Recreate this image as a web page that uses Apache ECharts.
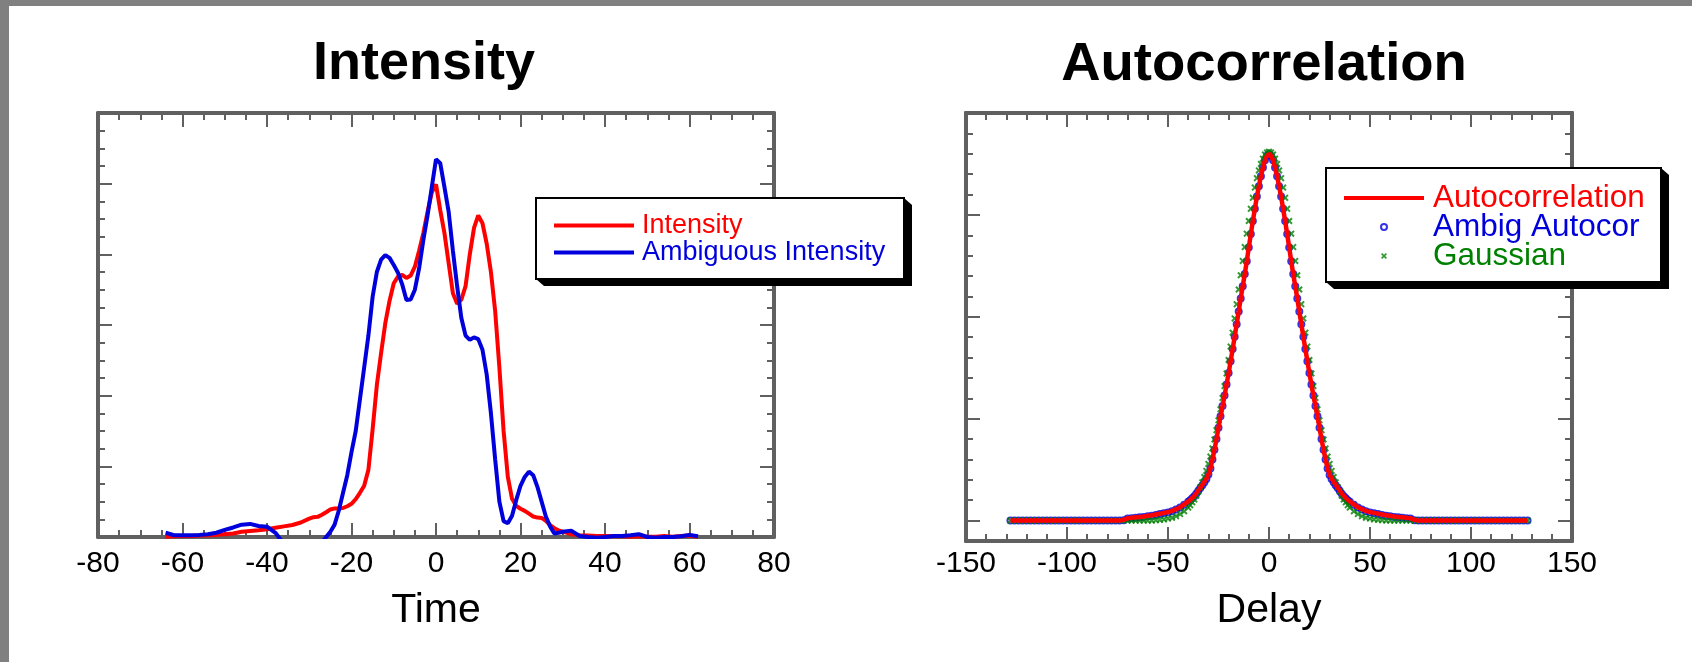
<!DOCTYPE html>
<html>
<head>
<meta charset="utf-8">
<title>Intensity and Autocorrelation</title>
<script src="https://cdn.jsdelivr.net/npm/echarts@6.0.0/dist/echarts.min.js"></script>
<style>
  html, body { margin: 0; padding: 0; background: #fff; }
  .frame-left { position: absolute; left: 0; top: 0; width: 9px; height: 662px; background: #808080; }
  .frame-top { position: absolute; left: 0; top: 0; width: 1692px; height: 6px; background: #808080; }
  #chart { position: absolute; left: 0; top: 0; width: 1692px; height: 662px; }
</style>
</head>
<body>
<div class="frame-left"></div>
<div class="frame-top"></div>
<div id="chart"></div>
<script>
const FONT = "'Liberation Sans', Arial, sans-serif"
const RED = '#ff0000'
const BLUE = '#0000dd'
const GREEN = '#008000'
const FRAME = '#606060'

// left panel: time axis
const times = [
  -64, -62, -60, -58, -56, -54, -52, -50, -48, -46,
  -44, -42, -40, -38, -36, -34, -32,
  -30, -29, -28, -27, -26, -25, -24, -23, -22, -21,
  -20, -19, -18, -17, -16, -15, -14, -13, -12, -11,
  -10, -9, -8, -7, -6, -5, -4, -3, -2, -1,
  0, 1, 2, 3, 4, 5, 6, 7, 8, 9,
  10, 11, 12, 13, 14, 15, 16, 17, 18, 19,
  20, 21, 22, 23, 24, 25, 26, 27, 28, 29,
  30,
  32, 34, 36, 38, 40, 42, 44, 46, 48, 50,
  52, 54, 56, 58, 60, 62
]
const intensity = [
  0.001, 0.002, 0.003, 0.003, 0.004, 0.005, 0.006, 0.008, 0.010, 0.015,
  0.017, 0.019, 0.022, 0.026, 0.030, 0.034, 0.041,
  0.052, 0.056, 0.057, 0.063, 0.070, 0.078, 0.081, 0.081, 0.082, 0.087,
  0.094, 0.107, 0.125, 0.145, 0.190, 0.305, 0.430, 0.520, 0.605, 0.668,
  0.718, 0.737, 0.742, 0.733, 0.740, 0.765, 0.810, 0.860, 0.920, 0.975,
  0.998, 0.925, 0.860, 0.775, 0.690, 0.660, 0.672, 0.710, 0.800, 0.875,
  0.910, 0.888, 0.830, 0.750, 0.640, 0.480, 0.300, 0.170, 0.108, 0.088,
  0.080, 0.074, 0.066, 0.058, 0.055, 0.054, 0.046, 0.034, 0.025, 0.019,
  0.015,
  0.008, 0.005, 0.004, 0.003, 0.003, 0.002, 0.002, 0.001, 0.002, 0.001,
  0.001, 0.003, 0.001, 0.003, 0.004, 0.001
]
const ambigIntensity = [
  0.012, 0.005, 0.005, 0.005, 0.006, 0.008, 0.012, 0.020, 0.027, 0.035,
  0.037, 0.031, 0.029, 0.012, -0.020, -0.050, -0.060,
  -0.055, -0.045, -0.030, -0.015, 0.000, 0.015, 0.035, 0.075, 0.125, 0.175,
  0.240, 0.300, 0.390, 0.480, 0.570, 0.680, 0.750, 0.785, 0.798, 0.790,
  0.770, 0.748, 0.715, 0.671, 0.672, 0.700, 0.760, 0.840, 0.910, 0.990,
  1.069, 1.058, 0.990, 0.920, 0.810, 0.710, 0.620, 0.570, 0.558, 0.565,
  0.560, 0.530, 0.460, 0.350, 0.220, 0.100, 0.045, 0.039, 0.060, 0.105,
  0.145, 0.170, 0.185, 0.175, 0.142, 0.100, 0.058, 0.030, 0.010, 0.012,
  0.015,
  0.018, 0.003, 0.000, -0.002, 0.000, 0.003, 0.003, 0.005, 0.008, 0.000,
  -0.002, 0.000, 0.000, 0.002, 0.006, 0.002
]

// right panel: delay axis
const delays = [
  -128, -126, -124, -122, -120, -118, -116, -114, -112, -110,
  -108, -106, -104, -102, -100, -98, -96, -94, -92, -90,
  -88, -86, -84, -82, -80, -78, -76, -74, -72, -70,
  -68, -66, -64, -62, -60, -58, -56, -54, -52, -50,
  -48, -46, -44, -42,
  -40, -39, -38, -37, -36, -35, -34, -33, -32, -31,
  -30, -29, -28, -27, -26, -25, -24, -23, -22, -21,
  -20, -19, -18, -17, -16, -15, -14, -13, -12, -11,
  -10, -9, -8, -7, -6, -5, -4, -3, -2, -1,
  0, 1, 2, 3, 4, 5, 6, 7, 8, 9,
  10, 11, 12, 13, 14, 15, 16, 17, 18, 19,
  20, 21, 22, 23, 24, 25, 26, 27, 28, 29,
  30, 31, 32, 33, 34, 35, 36, 37, 38, 39,
  40,
  42, 44, 46, 48, 50, 52, 54, 56, 58, 60,
  62, 64, 66, 68, 70, 72, 74, 76, 78, 80,
  82, 84, 86, 88, 90, 92, 94, 96, 98, 100,
  102, 104, 106, 108, 110, 112, 114, 116, 118, 120,
  122, 124, 126, 128
]
const autocorr = [
  0, 0, 0, 0, 0, 0, 0, 0, 0, 0,
  0, 0, 0, 0, 0, 0, 0, 0, 0, 0,
  0, 0, 0, 0, 0, 0, 0, 0, 0.002, 0.006,
  0.007, 0.008, 0.009, 0.010, 0.012, 0.013, 0.015, 0.017, 0.019, 0.021,
  0.024, 0.028, 0.033, 0.040,
  0.047, 0.051, 0.056, 0.061, 0.067, 0.074, 0.081, 0.088, 0.095, 0.103,
  0.113, 0.128, 0.150, 0.174, 0.200, 0.228, 0.256, 0.281, 0.307, 0.334,
  0.362, 0.391, 0.421, 0.451, 0.482, 0.513, 0.545, 0.575, 0.605, 0.636,
  0.670, 0.703, 0.735, 0.765, 0.795, 0.820, 0.845, 0.866, 0.884, 0.895,
  0.900, 0.895, 0.884, 0.866, 0.845, 0.820, 0.795, 0.765, 0.735, 0.703,
  0.670, 0.636, 0.605, 0.575, 0.545, 0.513, 0.482, 0.451, 0.421, 0.391,
  0.362, 0.334, 0.307, 0.281, 0.256, 0.228, 0.200, 0.174, 0.150, 0.128,
  0.113, 0.103, 0.095, 0.088, 0.081, 0.074, 0.067, 0.061, 0.056, 0.051,
  0.047,
  0.040, 0.033, 0.028, 0.024, 0.021, 0.019, 0.017, 0.015, 0.013, 0.012,
  0.010, 0.009, 0.008, 0.007, 0.006, 0.002, 0, 0, 0, 0,
  0, 0, 0, 0, 0, 0, 0, 0, 0, 0,
  0, 0, 0, 0, 0, 0, 0, 0, 0, 0,
  0, 0, 0, 0
]
const ambigAutocor = [
  0, 0, 0, 0, 0, 0, 0, 0, 0, 0,
  0, 0, 0, 0, 0, 0, 0, 0, 0, 0,
  0, 0, 0, 0, 0, 0, 0, 0, 0.001, 0.005,
  0.006, 0.007, 0.008, 0.009, 0.011, 0.012, 0.014, 0.016, 0.018, 0.020,
  0.023, 0.027, 0.032, 0.039,
  0.046, 0.050, 0.055, 0.060, 0.066, 0.073, 0.080, 0.087, 0.094, 0.102,
  0.113, 0.128, 0.150, 0.174, 0.200, 0.228, 0.256, 0.281, 0.307, 0.334,
  0.362, 0.391, 0.421, 0.451, 0.482, 0.513, 0.545, 0.575, 0.605, 0.636,
  0.670, 0.703, 0.735, 0.765, 0.795, 0.820, 0.845, 0.866, 0.884, 0.895,
  0.900, 0.895, 0.884, 0.866, 0.845, 0.820, 0.795, 0.765, 0.735, 0.703,
  0.670, 0.636, 0.605, 0.575, 0.545, 0.513, 0.482, 0.451, 0.421, 0.391,
  0.362, 0.334, 0.307, 0.281, 0.256, 0.228, 0.200, 0.174, 0.150, 0.128,
  0.112, 0.102, 0.094, 0.087, 0.080, 0.073, 0.066, 0.060, 0.055, 0.050,
  0.046,
  0.039, 0.032, 0.027, 0.023, 0.020, 0.018, 0.016, 0.014, 0.012, 0.011,
  0.009, 0.008, 0.007, 0.006, 0.005, 0.001, 0, 0, 0, 0,
  0, 0, 0, 0, 0, 0, 0, 0, 0, 0,
  0, 0, 0, 0, 0, 0, 0, 0, 0, 0,
  0, 0, 0, 0
]
const gaussian = [
  0, 0, 0, 0, 0, 0, 0, 0, 0, 0,
  0, 0, 0, 0, 0, 0, 0, 0, 0, 0,
  0, 0, 0, 0, 0, 0, 0, 0, 0, 0,
  0, 0, 0, 0, 0, 0, 0.001, 0.002, 0.003, 0.005,
  0.007, 0.011, 0.016, 0.023,
  0.032, 0.038, 0.045, 0.052, 0.061, 0.071, 0.082, 0.094, 0.107, 0.122,
  0.139, 0.157, 0.177, 0.199, 0.222, 0.246, 0.273, 0.301, 0.330, 0.361,
  0.394, 0.427, 0.461, 0.496, 0.531, 0.567, 0.602, 0.637, 0.671, 0.704,
  0.735, 0.765, 0.792, 0.817, 0.840, 0.859, 0.875, 0.888, 0.898, 0.903,
  0.905, 0.903, 0.898, 0.888, 0.875, 0.859, 0.840, 0.817, 0.792, 0.765,
  0.735, 0.704, 0.671, 0.637, 0.602, 0.567, 0.531, 0.496, 0.461, 0.427,
  0.394, 0.361, 0.330, 0.301, 0.273, 0.246, 0.222, 0.199, 0.177, 0.157,
  0.139, 0.122, 0.107, 0.094, 0.082, 0.071, 0.061, 0.052, 0.045, 0.038,
  0.032,
  0.023, 0.016, 0.011, 0.007, 0.005, 0.003, 0.002, 0.001, 0, 0,
  0, 0, 0, 0, 0, 0, 0, 0, 0, 0,
  0, 0, 0, 0, 0, 0, 0, 0, 0, 0,
  0, 0, 0, 0, 0, 0, 0, 0, 0, 0,
  0, 0, 0, 0
]

// bold "x" marker
const CROSS = 'path://M0,2L2,0L5,3L8,0L10,2L7,5L10,8L8,10L5,7L2,10L0,8L3,5Z'
const NO_DOT = { color: 'rgba(0,0,0,0)', borderWidth: 0 }

const pairs = (xs, ys) => xs.map((x, i) => [x, ys[i]])

const tickStyle = { color: FRAME, width: 2 }
const frameLine = { show: true, onZero: false, lineStyle: { color: FRAME, width: 4 } }

const xFrame = (grid, pos, min, max, interval, split, extra) => Object.assign({
  type: 'value',
  gridIndex: grid,
  position: pos,
  min: min,
  max: max,
  interval: interval,
  axisLine: frameLine,
  axisTick: { show: true, inside: true, length: 14, lineStyle: tickStyle },
  minorTick: { show: true, splitNumber: split, length: 7, lineStyle: tickStyle },
  splitLine: { show: false },
  axisLabel: { show: false }
}, extra)

const yFrame = (grid, pos, opts) => Object.assign({
  type: 'value',
  gridIndex: grid,
  position: pos,
  axisLine: frameLine,
  splitLine: { show: false },
  axisLabel: { show: false }
}, opts)

const tickLabel = margin => ({
  show: true, fontSize: 30, color: '#000', fontFamily: FONT, margin: margin,
  showMinLabel: true, showMaxLabel: true
})
const axisName = { fontSize: 41, color: '#000', fontFamily: FONT }

// legend frame with the raised black edge
const legendFrame = (x, y, w, h) => [
  {
    type: 'polygon', z: 3, silent: true,
    shape: { points: [[x + w, y], [x + w + 8, y + 7], [x + w + 8, y + h + 7], [x + 8, y + h + 7], [x, y + h]] },
    style: { fill: '#000' }
  },
  {
    type: 'rect', z: 3, silent: true,
    shape: { x: x, y: y, width: w, height: h },
    style: { fill: '#fff', stroke: '#000', lineWidth: 2 }
  }
]

const chartDom = document.getElementById('chart')
const chart = echarts.init(chartDom)

const option = {
  animation: false,
  title: [
    {
      text: 'Intensity', left: 424, top: 37, padding: 0,
      textAlign: 'center', textVerticalAlign: 'top',
      textStyle: { fontSize: 54, fontWeight: 'bold', color: '#000', fontFamily: FONT }
    },
    {
      text: 'Autocorrelation', left: 1264, top: 37, padding: 0,
      textAlign: 'center', textVerticalAlign: 'top',
      textStyle: { fontSize: 54.5, fontWeight: 'bold', color: '#000', fontFamily: FONT }
    }
  ],
  graphic: [].concat(legendFrame(536, 198, 368, 81), legendFrame(1326, 168, 335, 114)),
  legend: [
    {
      orient: 'vertical',
      left: 552, top: 212,
      padding: 0,
      itemWidth: 80, itemHeight: 14, itemGap: 0,
      selectedMode: false,
      lineStyle: { width: 4 },
      textStyle: { fontSize: 27, lineHeight: 26, fontFamily: FONT, padding: [0, 0, 0, 3] },
      data: [
        { name: 'Intensity', itemStyle: NO_DOT, textStyle: { color: RED } },
        { name: 'Ambiguous Intensity', itemStyle: NO_DOT, textStyle: { color: BLUE } }
      ]
    },
    {
      orient: 'vertical',
      left: 1342, top: 182,
      padding: 0,
      itemWidth: 80, itemHeight: 6, itemGap: -3,
      selectedMode: false,
      lineStyle: { width: 4 },
      textStyle: { fontSize: 31.5, lineHeight: 29, fontFamily: FONT, padding: [0, 0, 0, 4] },
      data: [
        { name: 'Autocorrelation', itemStyle: NO_DOT, textStyle: { color: RED } },
        {
          name: 'Ambig Autocor', icon: 'circle',
          itemStyle: { color: 'rgba(0,0,0,0)', borderColor: BLUE, borderWidth: 2 },
          textStyle: { color: BLUE }
        },
        {
          name: 'Gaussian', icon: CROSS,
          itemStyle: { color: GREEN, borderWidth: 0 },
          textStyle: { color: GREEN }
        }
      ]
    }
  ],
  grid: [
    { left: 98, top: 113, width: 676, height: 424 },
    { left: 966, top: 113, width: 606, height: 428 }
  ],
  xAxis: [
    xFrame(0, 'bottom', -80, 80, 20, 4, {
      axisLabel: tickLabel(12),
      name: 'Time', nameLocation: 'middle', nameGap: 53, nameTextStyle: axisName
    }),
    xFrame(0, 'top', -80, 80, 20, 4),
    xFrame(1, 'bottom', -150, 150, 50, 5, {
      axisLabel: tickLabel(8),
      name: 'Delay', nameLocation: 'middle', nameGap: 49, nameTextStyle: axisName
    }),
    xFrame(1, 'top', -150, 150, 50, 5)
  ],
  yAxis: [
    yFrame(0, 'left', {
      min: 0, max: 1.2, interval: 0.2,
      axisTick: { inside: true, length: 14, lineStyle: tickStyle },
      minorTick: { show: true, splitNumber: 4, length: 7, lineStyle: tickStyle }
    }),
    yFrame(0, 'right', {
      min: 0, max: 1.2, interval: 0.2,
      axisTick: { inside: true, length: 14, lineStyle: tickStyle },
      minorTick: { show: true, splitNumber: 4, length: 7, lineStyle: tickStyle }
    }),
    // short ticks every 0.05
    yFrame(1, 'left', {
      min: -0.05, max: 1, interval: 0.05,
      axisTick: { inside: true, length: 7, lineStyle: tickStyle }
    }),
    // long ticks at the quarter marks
    yFrame(1, 'left', {
      min: -0.05, max: 1,
      axisTick: { inside: true, length: 14, lineStyle: tickStyle, customValues: [0, 0.25, 0.5, 0.75, 1] }
    }),
    yFrame(1, 'right', {
      min: -0.05, max: 1, interval: 0.05,
      axisTick: { inside: true, length: 7, lineStyle: tickStyle }
    }),
    yFrame(1, 'right', {
      min: -0.05, max: 1,
      axisTick: { inside: true, length: 14, lineStyle: tickStyle, customValues: [0, 0.25, 0.5, 0.75, 1] }
    })
  ],
  series: [
    {
      name: 'Intensity',
      type: 'line',
      xAxisIndex: 0, yAxisIndex: 0,
      data: pairs(times, intensity),
      symbol: 'none',
      lineStyle: { color: RED, width: 4 },
      itemStyle: { color: RED }
    },
    {
      name: 'Ambiguous Intensity',
      type: 'line',
      xAxisIndex: 0, yAxisIndex: 0,
      data: pairs(times, ambigIntensity),
      symbol: 'none',
      lineStyle: { color: BLUE, width: 4 },
      itemStyle: { color: BLUE }
    },
    {
      name: 'Autocorrelation',
      type: 'line',
      xAxisIndex: 2, yAxisIndex: 2,
      data: pairs(delays, autocorr),
      symbol: 'none',
      lineStyle: { color: RED, width: 4.5 },
      itemStyle: { color: RED }
    },
    {
      name: 'Ambig Autocor',
      type: 'scatter',
      xAxisIndex: 2, yAxisIndex: 2,
      data: pairs(delays, ambigAutocor),
      symbol: 'circle',
      symbolSize: 6,
      itemStyle: { color: 'rgba(0,0,0,0)', borderColor: BLUE, borderWidth: 2 }
    },
    {
      name: 'Gaussian',
      type: 'scatter',
      xAxisIndex: 2, yAxisIndex: 2,
      data: pairs(delays, gaussian),
      symbol: CROSS,
      symbolSize: 7,
      itemStyle: { color: GREEN }
    }
  ]
}

chart.setOption(option)
window.addEventListener('resize', () => chart.resize())
</script>
</body>
</html>
